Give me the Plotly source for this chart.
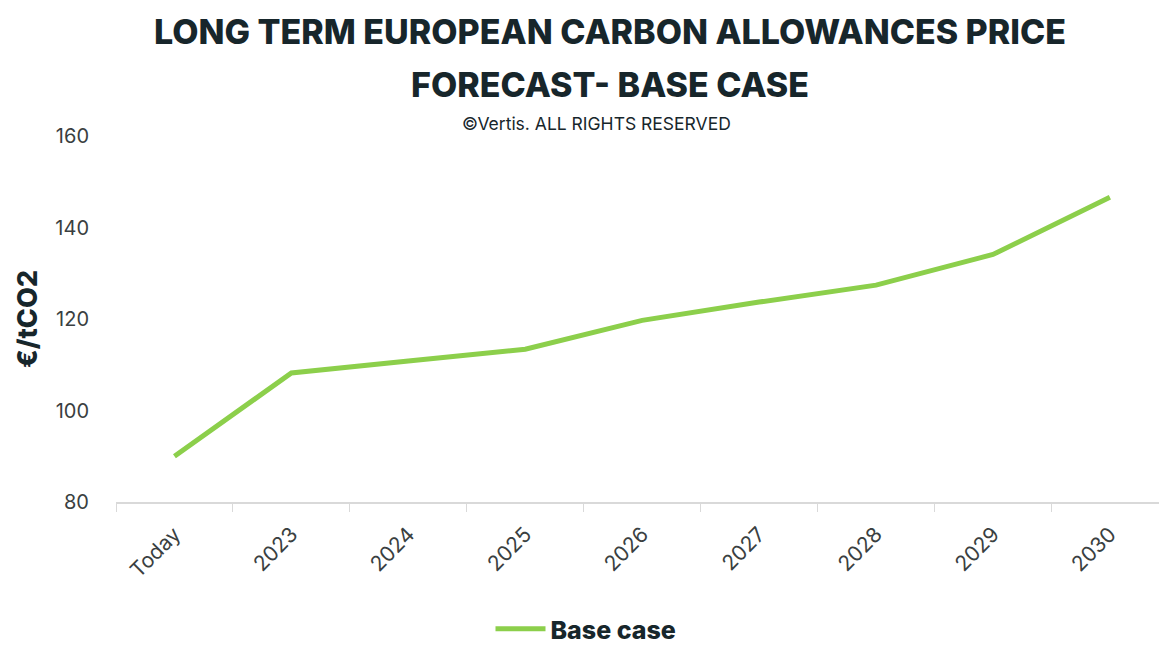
import plotly.graph_objects as go

categories = ["Today", "2023", "2024", "2025", "2026", "2027", "2028", "2029", "2030"]
base_case = [90.0, 108.2, 110.8, 113.4, 119.7, 123.7, 127.4, 134.1, 146.6]

W, H = 1159, 646
ML, MR, MT, MB = 116, 0, 136, 144
PH = H - MT - MB
PW = W - ML - MR

def py(px):
    return (H - MB - px) / PH

def pxx(px):
    return (px - ML) / PW

dark = "#17262b"
green = "#8ccf4b"
font = "Inter"

fig = go.Figure()
fig.add_trace(go.Scatter(
    x=categories, y=base_case, mode="lines", name="Base case",
    line=dict(color=green, width=5),
))

fig.update_layout(
    width=W, height=H,
    margin=dict(l=ML, r=MR, t=MT, b=MB, autoexpand=False),
    paper_bgcolor="white", plot_bgcolor="white",
    font=dict(family=font, color="#3a3f41"),
    showlegend=True,
    legend=dict(orientation="h", x=pxx(586), xanchor="center", y=py(629), yanchor="middle",
                font=dict(family=font, size=25, color=dark, weight=800), itemwidth=50,
                borderwidth=0),
    xaxis=dict(
        type="category", range=[-0.5, 8.42], showgrid=False, zeroline=False, automargin=False,
        showline=True, linecolor="#d9d9d9", linewidth=1.5,
        ticks="outside", tickson="boundaries", ticklen=8, tickcolor="#d9d9d9",
        tickangle=-45, ticklabelstandoff=10, tickfont=dict(family=font, size=21, color="#3a3f41"),
    ),
    yaxis=dict(
        range=[80, 160], dtick=20, showgrid=False, zeroline=False, showline=False, automargin=False,
        ticks="", ticklabelstandoff=26, tickfont=dict(family=font, size=20, color="#3a3f41"),
        title=dict(text="€/tCO2", font=dict(family=font, size=27, color=dark, weight=800), standoff=9),
    ),
)

fig.add_annotation(text="LONG TERM EUROPEAN CARBON ALLOWANCES PRICE", xref="paper", yref="paper",
                   x=pxx(610), y=py(32), xanchor="center", yanchor="middle", showarrow=False,
                   font=dict(family=font, size=34, color=dark, weight=800))
fig.add_annotation(text="FORECAST- BASE CASE", xref="paper", yref="paper",
                   x=pxx(610), y=py(84), xanchor="center", yanchor="middle", showarrow=False,
                   font=dict(family=font, size=34, color=dark, weight=800))
fig.add_annotation(text="©Vertis. ALL RIGHTS RESERVED", xref="paper", yref="paper",
                   x=pxx(596), y=py(123), xanchor="center", yanchor="middle", showarrow=False,
                   font=dict(family=font, size=17.5, color=dark))

fig.write_html("out.html", config={"displayModeBar": False},
               post_script="document.body.style.margin='0';document.body.style.overflow='hidden';")
